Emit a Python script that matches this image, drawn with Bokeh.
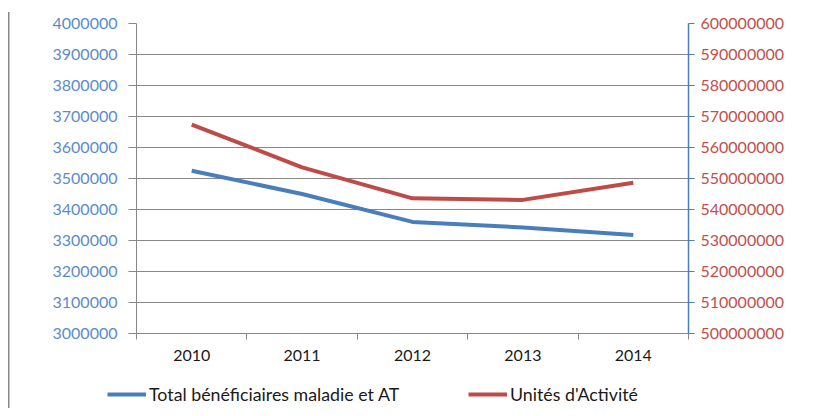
from bokeh.plotting import figure
from bokeh.layouts import column
from bokeh.models import (Range1d, LinearAxis, FixedTicker, PrintfTickFormatter,
                          Legend, LegendItem, ColumnDataSource)
from bokeh.embed import file_html
from bokeh.resources import INLINE

years = ["2010", "2011", "2012", "2013", "2014"]
beneficiaires = [3525000, 3450000, 3360000, 3342000, 3318000]
unites = [567400000, 553600000, 543600000, 543100000, 548600000]
left_ticks = [3000000, 3100000, 3200000, 3300000, 3400000, 3500000,
              3600000, 3700000, 3800000, 3900000, 4000000]
right_ticks = [500000000, 510000000, 520000000, 530000000, 540000000, 550000000,
               560000000, 570000000, 580000000, 590000000, 600000000]
series_names = ["Total bénéficiaires maladie et AT", "Unités d'Activité"]

FONT = "Lato"
BLUE = "#4A7EBB"
RED = "#BE4B48"
GRAY = "#878787"
W = 817

xpos = [i + 0.5 for i in range(len(years))]
src = ColumnDataSource(dict(x=xpos, b=beneficiaires, u=unites))

p = figure(width=W, height=372, output_backend="svg", toolbar_location=None,
           x_range=Range1d(0, len(years)), y_range=Range1d(left_ticks[0], left_ticks[-1]),
           x_axis_location="below", y_axis_location="left")
p.min_border_left = 136
p.min_border_right = W - 688
p.min_border_top = 23
p.min_border_bottom = 39
p.outline_line_color = None
p.background_fill_color = "white"
p.border_fill_alpha = 0
p.frame_align = False

p.extra_y_ranges = {"r": Range1d(right_ticks[0], right_ticks[-1])}

# grids
p.xgrid.visible = False
p.ygrid.ticker = FixedTicker(ticks=left_ticks)
p.ygrid.grid_line_color = GRAY
p.ygrid.grid_line_width = 1

# left axis
ya = p.yaxis[0]
ya.ticker = FixedTicker(ticks=left_ticks)
ya.formatter = PrintfTickFormatter(format="%d")
ya.axis_line_color = GRAY
ya.major_tick_line_color = GRAY
ya.major_tick_out = 8
ya.major_tick_in = 0
ya.minor_tick_line_color = None
ya.major_label_standoff = 11
ya.major_label_text_font = FONT
ya.major_label_text_font_size = "16px"
ya.major_label_text_color = "#5A8CCB"

# right axis
ra = LinearAxis(y_range_name="r", ticker=FixedTicker(ticks=right_ticks),
                formatter=PrintfTickFormatter(format="%d"))
ra.axis_line_color = BLUE
ra.axis_line_width = 1.5
ra.major_tick_line_color = BLUE
ra.major_tick_out = 6
ra.major_tick_in = 0
ra.minor_tick_line_color = None
ra.major_label_standoff = 6
ra.major_label_text_font = FONT
ra.major_label_text_font_size = "16px"
ra.major_label_text_color = "#C0504D"
p.add_layout(ra, "right")

# bottom axis
xa = p.xaxis[0]
xa.ticker = FixedTicker(ticks=xpos, minor_ticks=list(range(len(years) + 1)))
xa.major_label_overrides = {x: y for x, y in zip(xpos, years)}
xa.axis_line_color = GRAY
xa.major_tick_out = 0
xa.major_tick_in = 0
xa.minor_tick_out = 6
xa.minor_tick_in = 0
xa.minor_tick_line_color = GRAY
xa.major_label_standoff = 10
xa.major_label_text_font = FONT
xa.major_label_text_font_size = "16px"
xa.major_label_text_color = "#1a1a1a"

p.line("x", "b", source=src, line_color=BLUE, line_width=4)
p.line("x", "u", source=src, y_range_name="r", line_color=RED, line_width=4)

# legend strip (separate small figure below the chart)
lf = figure(width=W, height=36, output_backend="svg", toolbar_location=None,
            x_range=Range1d(0, 1), y_range=Range1d(0, 1))
lf.axis.visible = False
lf.grid.visible = False
lf.outline_line_color = None
lf.border_fill_alpha = 0
lf.background_fill_alpha = 0
lf.min_border = 0
lf.frame_align = False
nan = float("nan")
e1 = lf.line([nan], [nan], line_color=BLUE, line_width=4)
e2 = lf.line([nan], [nan], line_color=RED, line_width=4)
lg = Legend(items=[LegendItem(label=series_names[0], renderers=[e1]),
                   LegendItem(label=series_names[1], renderers=[e2])],
            location=(107, 3), orientation="horizontal", padding=0, margin=0,
            spacing=19, border_line_color=None, background_fill_alpha=0,
            glyph_width=39, glyph_height=20, label_height=20, label_width=300,
            label_standoff=3, label_text_font=FONT, label_text_font_size="17.8px",
            label_text_color="#1a1a1a")
lf.add_layout(lg, "center")

lay = column(p, lf, spacing=0)
lay.styles = {"background": "linear-gradient(#888888,#888888) 8px 12px / 1.5px 100% no-repeat, white"}

open("out.html", "w").write(file_html(lay, INLINE))
